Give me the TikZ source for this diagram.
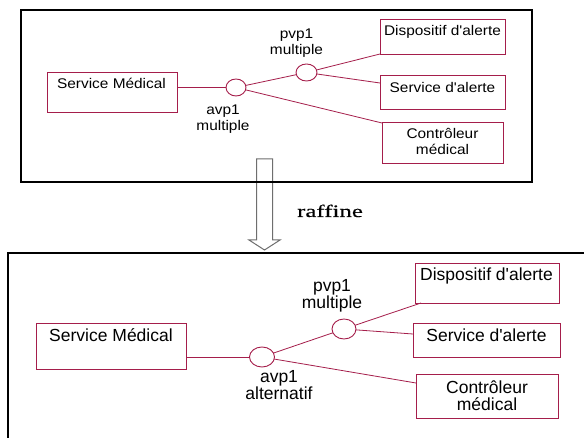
\documentclass[tikz,border=0pt]{standalone}
\usepackage{fontspec}
\usetikzlibrary{shapes.geometric,calc}
\newfontfamily\arialf{Liberation Sans}
\newfontfamily\arialw{Liberation Sans}[FakeStretch=1.1]
\newfontfamily\timesw{Liberation Serif}[FakeStretch=1.42, FakeBold=0.4]
\definecolor{crim}{RGB}{165,30,75}
\definecolor{arrgray}{RGB}{110,110,110}
\begin{document}
\begin{tikzpicture}[x=1pt,y=-1pt,
  box/.style={draw=crim, line width=0.9pt, inner sep=0pt, outer sep=0pt},
  vp/.style={draw=crim, line width=0.9pt, ellipse, inner sep=0pt, outer sep=0pt},
  conn/.style={draw=crim, line width=0.8pt},
  frame/.style={draw=black, line width=2.4pt},
  tsm/.style={font=\arialw\fontsize{14}{15.5}\selectfont, inner sep=0pt, align=center},
  tbg/.style={font=\arialf\fontsize{17.5}{17}\selectfont, inner sep=0pt, align=center}
]
\useasboundingbox (0,0) rectangle (584,438);
\clip (0,0) rectangle (584,438);
\fill[white] (0,0) rectangle (584,438);

% refinement arrow
\draw[draw=arrgray, fill=white, line width=1pt]
  (256.5,159) -- (272.5,159) -- (272.5,240) -- (280,240) -- (264.5,250)
  -- (249,240) -- (256.5,240) -- cycle;
\node[font=\timesw\fontsize{17.5}{20}\selectfont, anchor=base, inner sep=0pt] (raff) at (330,217) {raffine};

% frames
\draw[frame] (21,10) rectangle (532,182);
\draw[frame] (8,253) rectangle (600,470);

% ---------- top diagram ----------
\node[box, minimum width=130pt, minimum height=40pt] (sm1) at (112,92) {};
\node[tsm] (sm1t) at (111.5,83) {Service Médical};
\node[box, minimum width=125pt, minimum height=35pt] (d1) at (442.5,36.5) {};
\node[tsm] (d1t) at (442.5,32) {Dispositif d'alerte};
\node[box, minimum width=125pt, minimum height=34pt] (s1) at (442.5,92) {};
\node[tsm] (s1t) at (442.5,87) {Service d'alerte};
\node[box, minimum width=121pt, minimum height=41pt] (c1) at (442.5,142.5) {};
\node[tsm, align=center] (c1t) at (442.5,141.5) {Contrôleur\\médical};

\node[vp, minimum width=20pt, minimum height=17pt] (a1) at (236,87.5) {};
\node[vp, minimum width=21pt, minimum height=17pt] (p1) at (306.5,72.5) {};
\node[tsm] (p1l) at (296.5,43) {pvp1\\multiple};
\node[tsm] (a1l) at (223,119) {avp1\\multiple};

\draw[conn] (a1.west) -- (a1.west -| sm1.east);
\draw[conn] (a1) -- (p1);
\draw[conn] (p1) -- (d1.south west);
\draw[conn] (p1) -- ($(s1.west)+(0,-9)$);
\draw[conn] (a1) -- ($(c1.north west)+(0,1)$);

% ---------- bottom diagram ----------
\node[box, minimum width=150pt, minimum height=46pt] (sm2) at (111,346) {};
\node[tbg] (sm2t) at (111,335) {Service Médical};
\node[box, minimum width=144pt, minimum height=40pt] (d2) at (487,283) {};
\node[tbg] (d2t) at (486.5,276) {Dispositif d'alerte};
\node[box, minimum width=147pt, minimum height=34pt] (s2) at (486.5,340) {};
\node[tbg] (s2t) at (486.5,335) {Service d'alerte};
\node[box, minimum width=142pt, minimum height=44pt] (c2) at (487,396) {};
\node[tbg] (c2t) at (487,395.5) {Contrôleur\\médical};

\node[vp, minimum width=25pt, minimum height=20pt] (a2) at (262,357) {};
\node[vp, minimum width=24pt, minimum height=20pt] (p2) at (344,329) {};
\node[tbg] (p2l) at (332,295.5) {pvp1\\multiple};
\node[tbg] (a2l) at (279,385.5) {avp1\\alternatif};

\draw[conn] (a2.west) -- (a2.west -| sm2.east);
\draw[conn] (a2) -- (p2);
\draw[conn] (p2) -- ($(d2.south west)+(6,0)$);
\draw[conn] (p2) -- ($(s2.west)+(0,-6)$);
\draw[conn] (a2) -- ($(c2.north west)+(0,9)$);
\end{tikzpicture}
\end{document}
